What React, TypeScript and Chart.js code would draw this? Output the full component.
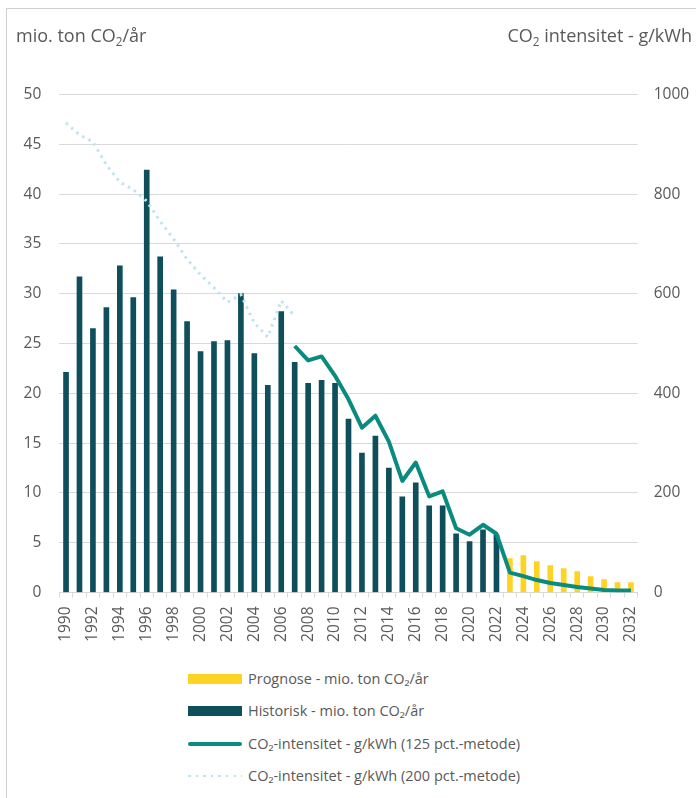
import React, { useEffect, useRef } from "react";
import { Chart, registerables } from "chart.js";

Chart.register(...registerables);

const years = [
  "1990", "1991", "1992", "1993", "1994", "1995", "1996", "1997", "1998", "1999",
  "2000", "2001", "2002", "2003", "2004", "2005", "2006", "2007", "2008", "2009",
  "2010", "2011", "2012", "2013", "2014", "2015", "2016", "2017", "2018", "2019",
  "2020", "2021", "2022", "2023", "2024", "2025", "2026", "2027", "2028", "2029",
  "2030", "2031", "2032",
];

// Historisk - mio. ton CO2/år (1990-2022)
const historiskStart = "1990";
const historisk = [
  22.1, 31.7, 26.5, 28.6, 32.8, 29.6, 42.4, 33.7, 30.4, 27.2,
  24.2, 25.2, 25.3, 30.0, 24.0, 20.8, 28.2, 23.1, 21.0, 21.3,
  21.0, 17.4, 14.0, 15.7, 12.5, 9.6, 11.0, 8.7, 8.7, 5.9,
  5.1, 6.3, 5.8,
];

// Prognose - mio. ton CO2/år (2023-2032)
const prognoseStart = "2023";
const prognose = [3.4, 3.7, 3.1, 2.7, 2.4, 2.1, 1.6, 1.3, 1.0, 1.0];

// CO2-intensitet g/kWh (125 pct.-metode), 2007-2032
const int125Start = "2007";
const intensitet125 = [
  495, 466, 474, 435, 388, 331, 355, 303, 224, 261,
  193, 203, 129, 116, 136, 118, 40, 33, 25, 19,
  15, 11, 8, 5, 4, 4,
];

// CO2-intensitet g/kWh (200 pct.-metode), 1990-2007
const int200Start = "1990";
const intensitet200 = [
  943, 919, 905, 859, 824, 809, 786, 745, 710, 669,
  638, 612, 583, 598, 541, 513, 586, 555,
];

const leftTicks = { min: 0, max: 50, step: 5 };
const rightTicks = { min: 0, max: 1000, step: 200 };

const pad = (vals: number[], startYear: string) => {
  const start = years.indexOf(startYear);
  return years.map((_, i) =>
    i >= start && i < start + vals.length ? vals[i - start] : null
  );
};

const COLORS = {
  historisk: "#0e4f5b",
  prognose: "#ffd324",
  int125: "#0a8b7f",
  int200: "#bfe3f0",
  grid: "#d9d9d9",
  text: "#595959",
};

const FONT = "'Open Sans', 'Noto Sans', sans-serif";

const CANVAS_H = 660;
const AREA_LEFT = 59.3;
const AREA_RIGHT = 637.7;
const AREA_TOP = 94.5;
const AREA_BOTTOM = 592.5;

const LABELS = {
  prognose: "Prognose - mio. ton CO₂/år",
  historisk: "Historisk - mio. ton CO₂/år",
  int125: "CO₂-intensitet - g/kWh (125 pct.-metode)",
  int200: "CO₂-intensitet - g/kWh (200 pct.-metode)",
};

export default function App() {
  const ref = useRef<HTMLCanvasElement | null>(null);

  useEffect(() => {
    if (!ref.current) return;
    const tickFont = { family: FONT, size: 15.5 };
    const chart = new Chart(ref.current, {
      type: "bar",
      data: {
        labels: years,
        datasets: [
          {
            type: "line",
            label: LABELS.int125,
            data: pad(intensitet125, int125Start),
            yAxisID: "y2",
            borderColor: COLORS.int125,
            backgroundColor: COLORS.int125,
            borderWidth: 4,
            pointRadius: 0,
            tension: 0,
            borderJoinStyle: "round",
            order: 0,
          } as any,
          {
            type: "line",
            label: LABELS.int200,
            data: pad(intensitet200, int200Start),
            yAxisID: "y2",
            borderColor: COLORS.int200,
            backgroundColor: COLORS.int200,
            borderWidth: 3,
            borderDash: [2.5, 4.5],
            pointRadius: 0,
            tension: 0,
            order: 1,
          } as any,
          {
            type: "bar",
            label: LABELS.prognose,
            data: pad(prognose, prognoseStart),
            yAxisID: "y",
            backgroundColor: COLORS.prognose,
            barThickness: 5,
            grouped: false,
            order: 2,
          } as any,
          {
            type: "bar",
            label: LABELS.historisk,
            data: pad(historisk, historiskStart),
            yAxisID: "y",
            backgroundColor: COLORS.historisk,
            barThickness: 5,
            grouped: false,
            order: 3,
          } as any,
        ],
      },
      options: {
        animation: false,
        responsive: false,
        maintainAspectRatio: false,
        layout: { padding: { top: AREA_TOP, left: 0, right: 0, bottom: 0 } },
        plugins: {
          legend: { display: false },
          tooltip: { enabled: false },
        },
        scales: {
          x: {
            offset: true,
            grid: {
              offset: true,
              drawOnChartArea: false,
              drawTicks: true,
              tickLength: 5,
              color: COLORS.grid,
            },
            border: { color: COLORS.grid },
            ticks: {
              autoSkip: false,
              minRotation: 90,
              maxRotation: 90,
              padding: 9,
              color: COLORS.text,
              font: tickFont,
              callback: (_v: any, i: number) => (i % 2 === 0 ? years[i] : ""),
            },
            afterFit: (s: any) => {
              s.height = CANVAS_H - AREA_BOTTOM;
            },
          },
          y: {
            position: "left",
            min: leftTicks.min,
            max: leftTicks.max,
            ticks: {
              stepSize: leftTicks.step,
              padding: 18,
              color: COLORS.text,
              font: tickFont,
              callback: (v: any) => String(v),
            },
            grid: { color: COLORS.grid, drawTicks: false, lineWidth: 1 },
            border: { display: false },
            afterFit: (s: any) => {
              s.width = AREA_LEFT;
            },
          },
          y2: {
            position: "right",
            min: rightTicks.min,
            max: rightTicks.max,
            ticks: {
              stepSize: rightTicks.step,
              padding: 16,
              color: COLORS.text,
              font: tickFont,
              callback: (v: any) => String(v),
            },
            grid: { drawOnChartArea: false, drawTicks: false },
            border: { display: false },
            afterFit: (s: any) => {
              s.width = 696 - AREA_RIGHT;
            },
          },
        },
      } as any,
    });
    return () => chart.destroy();
  }, []);

  const textStyle: React.CSSProperties = {
    position: "absolute",
    fontFamily: FONT,
    color: COLORS.text,
    whiteSpace: "nowrap",
  };

  const legendItems = [
    {
      label: LABELS.prognose,
      y: 679,
      swatch: { height: 10, background: COLORS.prognose } as React.CSSProperties,
    },
    {
      label: LABELS.historisk,
      y: 711,
      swatch: { height: 10, background: COLORS.historisk } as React.CSSProperties,
    },
    {
      label: LABELS.int125,
      y: 744,
      swatch: { height: 4, background: COLORS.int125, borderRadius: 2 } as React.CSSProperties,
    },
    {
      label: LABELS.int200,
      y: 776,
      swatch: {
        height: 2.5,
        background: `repeating-linear-gradient(to right, ${COLORS.int200} 0 2.5px, transparent 2.5px 7.6px)`,
      } as React.CSSProperties,
    },
  ];

  return (
    <div
      style={{
        position: "absolute",
        left: 0,
        top: 0,
        width: 696,
        height: 798,
        background: "#ffffff",
        overflow: "hidden",
      }}
    >
      <div
        style={{
          position: "absolute",
          left: 6,
          top: 8,
          right: -2,
          bottom: -2,
          borderTop: "1px solid #d0d0d0",
          borderLeft: "1px solid #d0d0d0",
        }}
      />
      <canvas
        ref={ref}
        width={696}
        height={CANVAS_H}
        style={{ position: "absolute", left: 0, top: 0, width: 696, height: CANVAS_H }}
      />
      <div style={{ ...textStyle, left: 16, top: 23, fontSize: 18 }}>
        mio. ton CO<sub style={{ fontSize: "0.65em", verticalAlign: "-0.3em" }}>2</sub>/år
      </div>
      <div style={{ ...textStyle, right: 4, top: 23, fontSize: 18 }}>
        CO<sub style={{ fontSize: "0.65em", verticalAlign: "-0.3em" }}>2</sub> intensitet - g/kWh
      </div>
      {legendItems.map((it) => (
        <React.Fragment key={it.label}>
          <div
            style={{
              position: "absolute",
              left: 188,
              width: 54,
              top: it.y - (it.swatch.height as number) / 2,
              ...it.swatch,
            }}
          />
          <div
            style={{
              ...textStyle,
              left: 248,
              top: it.y - 11,
              fontSize: 14.5,
              lineHeight: "22px",
            }}
          >
            {it.label}
          </div>
        </React.Fragment>
      ))}
    </div>
  );
}
